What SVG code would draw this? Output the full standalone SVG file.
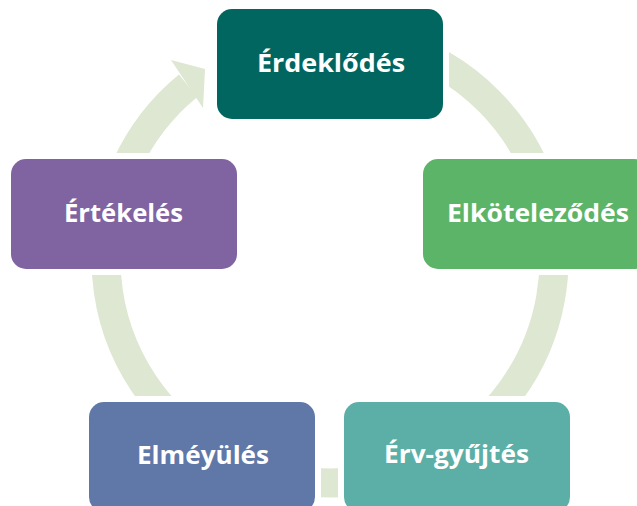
<svg xmlns="http://www.w3.org/2000/svg" width="637" height="506" viewBox="0 0 637 506">
<style>
.lbl{font-family:"Open Sans","Liberation Sans",sans-serif;font-weight:700;font-size:25px;fill:#ffffff;text-anchor:middle}
.ring{fill:none;stroke:#DEE7D1;stroke-width:29}
</style>
<defs>
<mask id="gap" maskUnits="userSpaceOnUse" x="0" y="0" width="637" height="506">
<rect x="0" y="0" width="637" height="506" fill="#fff"/>
<rect x="211" y="3" width="238" height="122" fill="#000"/>
<rect x="417" y="153" width="238" height="122" fill="#000"/>
<rect x="5" y="153" width="238" height="122" fill="#000"/>
<rect x="83" y="396" width="238" height="122" fill="#000"/>
<rect x="338" y="396" width="238" height="122" fill="#000"/>
</mask>
</defs>
<g id="connectors" mask="url(#gap)">
<path class="ring" d="M 188.1 85.7 A 224 224 0 1 0 291.1 38.4"/>
<polygon points="171,60 205,69 203,108" fill="#DEE7D1"/>
</g>
<g id="n-erdeklodes">
<rect x="217" y="9" width="226" height="110" rx="15" fill="#00665F"/>
<text class="lbl" x="331" y="72" textLength="148" lengthAdjust="spacingAndGlyphs">Érdeklődés</text>
</g>
<g id="n-elkotelezodes">
<rect x="423" y="159" width="226" height="110" rx="15" fill="#5CB468"/>
<text class="lbl" x="538" y="222" textLength="182" lengthAdjust="spacingAndGlyphs">Elköteleződés</text>
</g>
<g id="n-ervgyujtes">
<rect x="344" y="402" width="226" height="110" rx="15" fill="#5BAFA6"/>
<text class="lbl" x="456.5" y="463" textLength="145" lengthAdjust="spacingAndGlyphs">Érv-gyűjtés</text>
</g>
<g id="n-elmeyules">
<rect x="89" y="402" width="226" height="110" rx="15" fill="#5F78A8"/>
<text class="lbl" x="203" y="464" textLength="132" lengthAdjust="spacingAndGlyphs">Elméyülés</text>
</g>
<g id="n-ertekeles">
<rect x="11" y="159" width="226" height="110" rx="15" fill="#8064A2"/>
<text class="lbl" x="123.5" y="222" textLength="119" lengthAdjust="spacingAndGlyphs">Értékelés</text>
</g>
</svg>
